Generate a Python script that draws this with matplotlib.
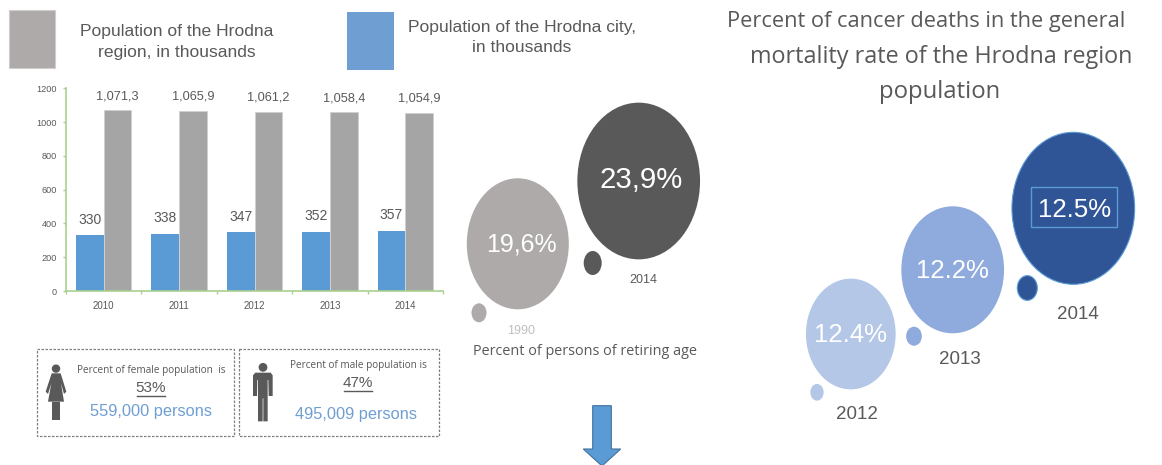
import matplotlib
matplotlib.use("Agg")
import matplotlib.pyplot as plt
from matplotlib.patches import Ellipse, Rectangle, Polygon, Circle

years = ["2010", "2011", "2012", "2013", "2014"]
city_values = [330, 338, 347, 352, 357]
region_values = [1071.3, 1065.9, 1061.2, 1058.4, 1054.9]
region_labels = ["1,071,3", "1,065,9", "1,061,2", "1,058,4", "1,054,9"]
y_ticks = [0, 200, 400, 600, 800, 1000, 1200]

retiring_years = ["1990", "2014"]
retiring_labels = ["19,6%", "23,9%"]
cancer_years = ["2012", "2013", "2014"]
cancer_labels = ["12.4%", "12.2%", "12.5%"]

W, H = 1162, 465
BLUE, GREY = "#5b9bd5", "#a5a5a5"
TXT = "#595959"
ARIAL = ["Liberation Sans"]
OPEN = ["Open Sans"]

fig = plt.figure(figsize=(W / 100, H / 100), dpi=100, facecolor="white")

# ---- overlay in pixel coordinates
ov = fig.add_axes([0, 0, 1, 1], zorder=0)
ov.set_xlim(0, W)
ov.set_ylim(H, 0)
ov.axis("off")

# ---- bar chart
L, R, T, B = 66, 443, 88.3, 291
ax = fig.add_axes([L / W, 1 - B / H, (R - L) / W, (B - T) / H], zorder=1)
ax.patch.set_alpha(0)
xs = list(range(len(years)))
bw = 0.368
ax.bar([x - bw / 2 for x in xs], city_values, bw, color=BLUE)
ax.bar([x + bw / 2 for x in xs], region_values, bw, color=GREY, edgecolor="#d0d0d0", linewidth=0.6)
ax.set_xlim(-0.5, 4.5)
ax.set_ylim(0, 1200)
ax.set_yticks(y_ticks)
ax.set_xticks([x - 0.5 for x in xs] + [4.5])
ax.set_xticklabels([])
ax.set_xticks(xs, minor=True)
ax.set_xticklabels(years, minor=True, fontsize=7, color=TXT, family=ARIAL)
ax.tick_params(axis="x", which="minor", length=0, pad=7)
ax.tick_params(axis="x", which="major", length=2.5, color="#a9d18e", width=1)
ax.tick_params(axis="y", length=2.5, color="#a9d18e", width=1, labelsize=6.6, labelcolor=TXT, pad=4)
for t in ax.get_yticklabels():
    t.set_fontfamily(ARIAL)
for s in ("top", "right"):
    ax.spines[s].set_visible(False)
for s in ("left", "bottom"):
    ax.spines[s].set_color("#a9d18e")
    ax.spines[s].set_linewidth(1.2)
for x, v in zip(xs, city_values):
    ax.annotate(str(v), (x - bw / 2, v), xytext=(0, 8.5), textcoords="offset pixels",
                ha="center", va="bottom", fontsize=10, color=TXT, family=ARIAL)
for x, v, s in zip(xs, region_values, region_labels):
    ax.annotate(s, (x + bw / 2, v), xytext=(0, 8), textcoords="offset pixels",
                ha="center", va="bottom", fontsize=9.2, color=TXT, family=ARIAL, annotation_clip=False)

# ---- legend blocks
ov.add_patch(Rectangle((9, 10), 46, 57.7, fc="#aeaaaa", ec="#d0cece", lw=0.8))
ov.add_patch(Rectangle((347, 12), 47, 58, fc="#6f9ed3", ec="none"))
LEG = 12.6
ov.text(176.5, 31.5, "Population of the Hrodna", ha="center", va="center", fontsize=LEG, color=TXT, family=ARIAL)
ov.text(176.5, 52, "region, in thousands", ha="center", va="center", fontsize=LEG, color=TXT, family=ARIAL)
ov.text(522, 27.5, "Population of the Hrodna city,", ha="center", va="center", fontsize=LEG, color=TXT, family=ARIAL)
ov.text(522, 47.5, "in thousands", ha="center", va="center", fontsize=LEG, color=TXT, family=ARIAL)

# ---- population boxes
for x0, x1 in ((37.3, 234.3), (238.7, 439)):
    ov.add_patch(Rectangle((x0, 348.7), x1 - x0, 87.3, fc="none", ec="#7f7f7f", lw=0.9, ls=(0, (2, 1.2))))
ov.text(151, 370, "Percent of female population  is", ha="center", va="center", fontsize=7.2, color=TXT, family=OPEN)
ov.text(151, 388, "53%", ha="center", va="center", fontsize=11, color=TXT, family=ARIAL)
ov.plot([137.3, 165], [395.7, 395.7], color=TXT, lw=1)
ov.text(151.3, 411.5, "559,000 persons", ha="center", va="center", fontsize=11.75, color="#6f9ed3", family=ARIAL)
ov.text(358.3, 365, "Percent of male population is", ha="center", va="center", fontsize=7.2, color=TXT, family=OPEN)
ov.text(358, 383.3, "47%", ha="center", va="center", fontsize=11, color=TXT, family=ARIAL)
ov.plot([344, 372], [390.7, 390.7], color=TXT, lw=1)
ov.text(355.7, 414, "495,009 persons", ha="center", va="center", fontsize=11.75, color="#6f9ed3", family=ARIAL)

def z(x, y):
    return (20 + x / 3, 330 + y / 3)

ICON = "#595959"
def poly(pts):
    ov.add_patch(Polygon([z(*p) for p in pts], fc=ICON, ec="none"))

# woman
ov.add_patch(Circle(z(108, 116), 4.2, fc=ICON, ec="none"))
poly([(95, 130), (122, 130), (139, 185), (132, 192), (123, 160), (132, 215), (84, 215), (94, 160), (84, 192), (77, 185)])
poly([(95, 215), (107, 215), (107, 269), (95, 269)])
poly([(109, 215), (121, 215), (121, 269), (109, 269)])
# man
ov.add_patch(Circle(z(729, 112), 4.4, fc=ICON, ec="none"))
poly([(706, 128), (752, 128), (758, 136), (758, 198), (746, 198), (745, 150), (743, 150), (743, 274), (730, 274), (730, 205),
      (728, 205), (728, 274), (714, 274), (714, 150), (712, 150), (711, 198), (699, 198), (699, 136)])

# ---- bubbles
def bubble(cx, cy, w, h, color, ec="none"):
    ov.add_patch(Ellipse((cx, cy), w, h, fc=color, ec=ec, lw=0.8))

bubble(517.8, 243.8, 102, 131, "#aeaaaa")
bubble(638.7, 181, 122.7, 156.7, "#595959")
bubble(479, 312.8, 15, 19, "#aeaaaa")
bubble(592.7, 263, 18, 24, "#595959")
ov.text(521.5, 244, retiring_labels[0], ha="center", va="center", fontsize=18, color="white", family=ARIAL)
ov.text(640.7, 179.5, retiring_labels[1], ha="center", va="center", fontsize=21.2, color="white", family=ARIAL)
ov.text(643, 280, retiring_years[1], ha="center", va="center", fontsize=9, color=TXT, family=ARIAL)
ov.text(520.7, 331, retiring_years[0], ha="center", va="center", fontsize=9, color="#bfbfbf", family=ARIAL)
ov.text(585, 351.7, "Percent of persons of retiring age", ha="center", va="center", fontsize=10.4, color=TXT, family=OPEN)

bubble(850.8, 334, 89.7, 110.7, "#b4c7e7")
bubble(952.7, 269.8, 102.7, 127, "#8faadc")
bubble(1073.3, 208.3, 122.7, 152, "#2f5597", ec="#5b9bd5")
bubble(817, 392.3, 13.3, 16.7, "#b4c7e7")
bubble(914, 336.2, 15.7, 19, "#8faadc")
bubble(1027.3, 288, 20, 24.7, "#2f5597", ec="#5b9bd5")
ov.add_patch(Rectangle((1030.7, 187.3), 86.6, 40, fc="none", ec="#5b9bd5", lw=1))
ov.text(851, 334.5, cancer_labels[0], ha="center", va="center", fontsize=18.6, color="white", family=ARIAL)
ov.text(952.7, 270.5, cancer_labels[1], ha="center", va="center", fontsize=18.6, color="white", family=ARIAL)
ov.text(1074.3, 209.5, cancer_labels[2], ha="center", va="center", fontsize=18.6, color="white", family=ARIAL)
ov.text(857, 414.5, cancer_years[0], ha="center", va="center", fontsize=13.5, color=TXT, family=ARIAL)
ov.text(960, 359, cancer_years[1], ha="center", va="center", fontsize=13.5, color=TXT, family=ARIAL)
ov.text(1078, 314.5, cancer_years[2], ha="center", va="center", fontsize=13.5, color=TXT, family=ARIAL)

# ---- title
for x, y, s, fs in ((926.5, 22, "Percent of cancer deaths in the general", 15.7),
                    (941, 57, "mortality rate of the Hrodna region", 16.8),
                    (940, 92, "population", 17.2)):
    ov.text(x, y, s, ha="center", va="center", fontsize=fs, color=TXT, family=OPEN)

# ---- arrow
ov.add_patch(Polygon([(592.7, 405.7), (611.3, 405.7), (611.3, 449), (620.7, 449), (602, 466), (583.3, 449), (592.7, 449)],
                     fc=BLUE, ec="#41719c", lw=0.8, clip_on=True))

fig.savefig("out.png", dpi=100)
